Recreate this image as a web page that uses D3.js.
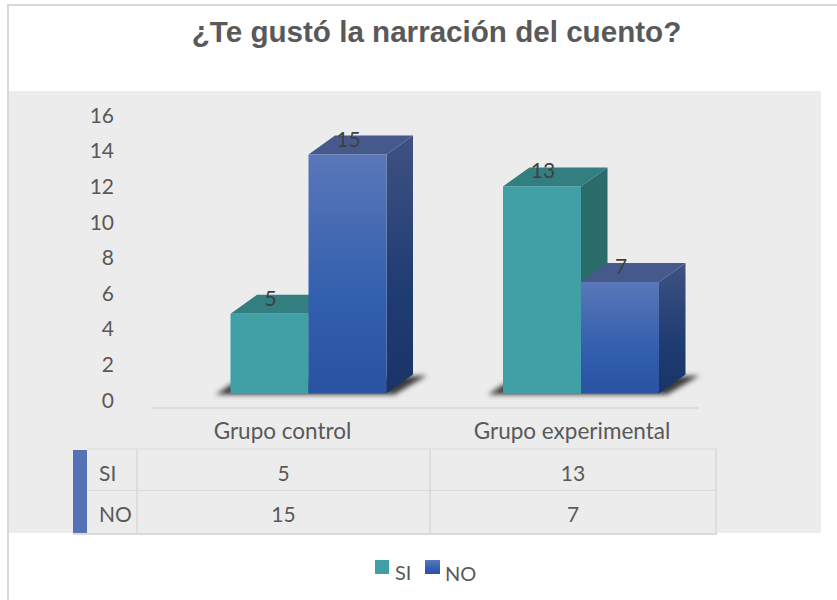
<!DOCTYPE html>
<html>
<head>
<meta charset="utf-8">
<script src="https://cdn.jsdelivr.net/npm/d3@7"></script>
<style>
  html, body { margin: 0; padding: 0; background: #fff; }
  svg { display: block; }
  text { font-family: Lato, "Open Sans", sans-serif; }
</style>
</head>
<body>
<div id="chart"></div>
<script>
const titulo = "¿Te gustó la narración del cuento?";
const grupos = ["Grupo control", "Grupo experimental"];
const series = ["SI", "NO"];
const valoresSI = [5, 13];
const valoresNO = [15, 7];
const ticks = [0, 2, 4, 6, 8, 10, 12, 14, 16];

const width = 837, height = 600;
const fontSize = "21px";
const svg = d3.select("#chart").append("svg").attr("width", width).attr("height", height);
const defs = svg.append("defs");

// Blue front / side gradients
const gradFront = defs.append("linearGradient").attr("id", "azulFrente").attr("x1", 0).attr("y1", 0).attr("x2", 0).attr("y2", 1);
gradFront.append("stop").attr("offset", "0%").attr("stop-color", "#5a77b9");
gradFront.append("stop").attr("offset", "60%").attr("stop-color", "#325fae");
gradFront.append("stop").attr("offset", "100%").attr("stop-color", "#2a53a2");
const gradSide = defs.append("linearGradient").attr("id", "azulLado").attr("x1", 0).attr("y1", 0).attr("x2", 0).attr("y2", 1);
gradSide.append("stop").attr("offset", "0%").attr("stop-color", "#3f5282");
gradSide.append("stop").attr("offset", "60%").attr("stop-color", "#1f3c73");
gradSide.append("stop").attr("offset", "100%").attr("stop-color", "#1a3467");
defs.append("filter").attr("id", "sombra").attr("x", "-20%").attr("y", "-50%").attr("width", "140%").attr("height", "200%")
    .append("feGaussianBlur").attr("stdDeviation", 2.4);

// Background and frame (only top and left edges show in the picture)
svg.append("rect").attr("x", 9).attr("y", 91).attr("width", 812).attr("height", 442).attr("fill", "#ececec");
svg.append("line").attr("x1", 7).attr("x2", width).attr("y1", 5).attr("y2", 5).attr("stroke", "#d9d9d9").attr("stroke-width", 2);
svg.append("line").attr("x1", 8).attr("x2", 8).attr("y1", 4).attr("y2", height).attr("stroke", "#d9d9d9").attr("stroke-width", 2);

svg.append("text").attr("x", 436.5).attr("y", 42).attr("text-anchor", "middle")
    .style("font-family", "'Liberation Sans', Arial, sans-serif")
    .style("font-weight", "bold").style("font-size", "29.6px").style("fill", "#595959").text(titulo);

// Tick labels sit on their own scale, the 3D floor is offset from the bars
const yTick = d3.scaleLinear().domain([0, 16]).range([400.5, 115.5]);
const yAxis = d3.axisLeft(yTick).tickValues(ticks).tickSize(0).tickPadding(0);
const axisG = svg.append("g").attr("transform", "translate(114,0)").call(yAxis);
axisG.select(".domain").remove();
axisG.selectAll("text").style("font-size", fontSize).style("fill", "#595959").style("font-family", "Lato, sans-serif");

// Floor line
svg.append("line").attr("x1", 151).attr("x2", 698).attr("y1", 408).attr("y2", 408)
    .attr("stroke", "#dcdcdc").attr("stroke-width", 2);

const y = d3.scaleLinear().domain([0, 16]).range([393.5, 138.6]);
const x0 = d3.scaleBand().domain(grupos).range([230.5, 659]).paddingInner(0.4275).paddingOuter(0);
const x1 = d3.scaleBand().domain(series).range([0, x0.bandwidth()]);
const dx = 26.5, dy = -19;

const datos = grupos.map((g, i) => ({ grupo: g, si: valoresSI[i], no: valoresNO[i] }));
const colores = {
  SI: { frente: "#41a0a5", arriba: "#337e80", lado: "#2b6b6a" },
  NO: { frente: "url(#azulFrente)", arriba: "#45598d", lado: "url(#azulLado)" }
};

// Shadow on the floor behind each group
datos.forEach(d => {
  const left = x0(d.grupo), right = left + x0.bandwidth();
  const y0 = y(0);
  const base = d3.path();
  base.moveTo(left - 15, y0 + 1);
  base.lineTo(left + 2, y0 - 10);
  base.lineTo(right + dx + 14, y0 + dy + 1);
  base.lineTo(right + 8, y0 + 1);
  base.closePath();
  svg.append("path").attr("d", base.toString()).attr("fill", "#3a3a3a").attr("filter", "url(#sombra)");
});

function drawBar(serie, grupo, valor) {
  const c = colores[serie];
  const xa = x0(grupo) + x1(serie), xb = xa + x1.bandwidth();
  const top = y(valor), bottom = y(0);
  const g = svg.append("g");
  g.append("path")
      .attr("d", `M${xb},${top}L${xb + dx},${top + dy}L${xb + dx},${bottom + dy}L${xb},${bottom}Z`)
      .attr("fill", c.lado);
  g.append("path")
      .attr("d", `M${xa},${top}L${xa + dx},${top + dy}L${xb + dx},${top + dy}L${xb},${top}Z`)
      .attr("fill", c.arriba);
  g.append("rect").attr("x", xa).attr("y", top).attr("width", xb - xa).attr("height", bottom - top)
      .attr("fill", c.frente);
  g.append("text").attr("x", (xa + xb) / 2 + 1).attr("y", top - 8)
      .attr("text-anchor", "middle").style("font-size", fontSize).style("fill", "#404040")
      .text(valor);
}

// Draw back to front so later bars overlap earlier sides
datos.forEach(d => {
  drawBar("SI", d.grupo, d.si);
  drawBar("NO", d.grupo, d.no);
});

// Category labels and data table
const colX = [137, 430, 716];
const rowY = [449, 490.5, 534];
const tableX = d3.scaleOrdinal().domain(grupos).range([(colX[0] + colX[1]) / 2, (colX[1] + colX[2]) / 2]);

svg.selectAll(".cat").data(grupos).join("text").attr("class", "cat")
    .attr("x", d => tableX(d) - 1).attr("y", 439).attr("text-anchor", "middle")
    .style("font-size", "22.5px").style("fill", "#595959").text(d => d);

svg.append("rect").attr("x", 73).attr("y", 450).attr("width", 14).attr("height", 83).attr("fill", "#5472b5");

const gris = "#d9d9d9";
rowY.forEach((ry, i) => {
  svg.append("line").attr("x1", i === 2 ? 73 : 87).attr("x2", colX[2] + 1).attr("y1", ry).attr("y2", ry)
      .attr("stroke", gris).attr("stroke-width", i === 2 ? 2 : 1);
});
colX.forEach(cx => {
  svg.append("line").attr("x1", cx).attr("x2", cx).attr("y1", rowY[0]).attr("y2", rowY[2])
      .attr("stroke", gris).attr("stroke-width", 1.5);
});

[valoresSI, valoresNO].forEach((vals, r) => {
  const cy = 481 + r * 41;
  svg.append("text").attr("x", 99).attr("y", cy).style("font-size", fontSize).style("fill", "#595959").text(series[r]);
  vals.forEach((v, i) => {
    svg.append("text").attr("x", tableX(grupos[i])).attr("y", cy).attr("text-anchor", "middle")
        .style("font-size", fontSize).style("fill", "#595959").text(v);
  });
});

// Legend
const legendX = d3.scaleOrdinal().domain(series).range([375, 425]);
series.forEach((s, i) => {
  svg.append("rect").attr("x", legendX(s)).attr("y", 560).attr("width", 14 + i).attr("height", 14)
      .attr("fill", s === "SI" ? "#41a0a5" : "url(#azulFrente)");
  svg.append("text").attr("x", legendX(s) + 20).attr("y", 580 + i)
      .style("font-size", "20px").style("fill", "#595959").text(s);
});
</script>
</body>
</html>
